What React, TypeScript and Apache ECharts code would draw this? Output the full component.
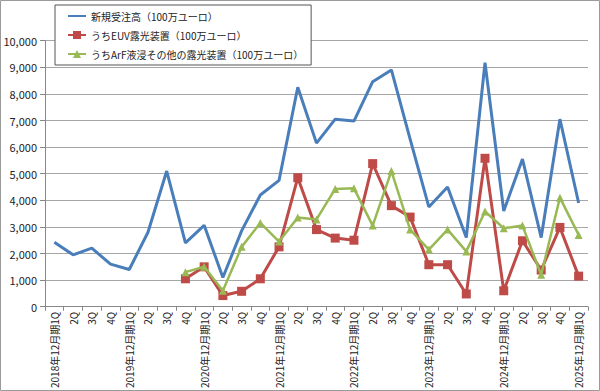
import React, { useEffect, useRef } from "react";
import * as echarts from "echarts";

const years = ["2018", "2019", "2020", "2021", "2022", "2023", "2024", "2025"];
const quarters = ["1Q", "2Q", "3Q", "4Q"];
const categories: string[] = [];
years.forEach((y) => {
  quarters.forEach((q) => {
    if (y === "2025" && q !== "1Q") return;
    categories.push(q === "1Q" ? `${y}年12月期1Q` : q);
  });
});

const seriesNames = [
  "新規受注高（100万ユーロ）",
  "うちEUV露光装置（100万ユーロ）",
  "うちArF液浸その他の露光装置（100万ユーロ）",
];

const totalOrders = [
  2420, 1950, 2200, 1600, 1400, 2800, 5100, 2400, 3060, 1100,
  2850, 4200, 4750, 8250, 6150, 7050, 6980, 8460, 8900, 6300,
  3750, 4500, 2600, 9170, 3600, 5550, 2600, 7050, 3900,
];
const euvOrders = [
  null, null, null, null, null, null, null, 1050, 1500, 420,
  580, 1050, 2250, 4850, 2900, 2580, 2500, 5380, 3800, 3370,
  1580, 1580, 480, 5580, 600, 2480, 1380, 2980, 1150,
];
const arfOrders = [
  null, null, null, null, null, null, null, 1300, 1500, 600,
  2250, 3150, 2450, 3350, 3280, 4430, 4450, 3050, 5100, 2900,
  2150, 2900, 2080, 3580, 2950, 3050, 1200, 4100, 2700,
];

const yTicks = { min: 0, max: 10000, interval: 1000 };

export default function App() {
  const ref = useRef<HTMLDivElement>(null);
  useEffect(() => {
    if (!ref.current) return;
    const chart = echarts.init(ref.current, undefined, { renderer: "svg" });
    const font = "'Noto Sans CJK JP', 'Noto Sans', sans-serif";
    chart.setOption({
      animation: false,
      backgroundColor: "#fff",
      textStyle: { fontFamily: font },
      graphic: [
        {
          type: "rect",
          shape: { x: 0.5, y: 0.5, width: 599, height: 390 },
          style: { fill: "none", stroke: "#9a9a9a", lineWidth: 1 },
          z: 100,
        },
      ],
      grid: { left: 45, right: 12, top: 40.7, bottom: 84 },
      legend: {
        orient: "vertical",
        left: 55,
        top: 5,
        padding: [6, 8, 6, 12],
        itemGap: 9,
        itemWidth: 18,
        itemHeight: 10,
        borderColor: "#555",
        borderWidth: 1,
        backgroundColor: "#fff",
        textStyle: { fontSize: 10, color: "#222", fontFamily: font },
        data: [
          { name: seriesNames[0], itemStyle: { opacity: 0 } },
          { name: seriesNames[1] },
          { name: seriesNames[2] },
        ],
        z: 10,
      },
      xAxis: {
        type: "category",
        data: categories,
        boundaryGap: true,
        axisLine: { lineStyle: { color: "#888", width: 1 } },
        axisTick: { show: true, length: 4, lineStyle: { color: "#888" } },
        axisLabel: {
          rotate: 90,
          interval: 0,
          fontSize: 10,
          color: "#222",
          margin: 5,
          fontFamily: font,
        },
      },
      yAxis: {
        type: "value",
        min: yTicks.min,
        max: yTicks.max,
        interval: yTicks.interval,
        axisLine: { show: true, lineStyle: { color: "#888", width: 1 } },
        axisTick: { show: true, length: 5, lineStyle: { color: "#888" } },
        splitLine: { lineStyle: { color: "#a6a6a6", width: 1 } },
        axisLabel: {
          fontSize: 11,
          color: "#222",
          margin: 8,
          fontFamily: font,
          formatter: (v: number) => v.toLocaleString("en-US"),
        },
      },
      series: [
        {
          name: seriesNames[0],
          type: "line",
          data: totalOrders,
          symbol: "none",
          lineStyle: { color: "#4a7ebb", width: 3 },
          itemStyle: { color: "#4a7ebb" },
          z: 3,
        },
        {
          name: seriesNames[1],
          type: "line",
          data: euvOrders,
          symbol: "rect",
          symbolSize: 9,
          lineStyle: { color: "#be4b48", width: 3 },
          itemStyle: { color: "#be4b48" },
          z: 4,
        },
        {
          name: seriesNames[2],
          type: "line",
          data: arfOrders,
          symbol: "triangle",
          symbolSize: 8,
          lineStyle: { color: "#98b954", width: 2.5 },
          itemStyle: { color: "#98b954" },
          z: 5,
        },
      ],
    });
    return () => chart.dispose();
  }, []);
  return (
    <div
      ref={ref}
      style={{ position: "fixed", left: 0, top: 0, width: 600, height: 391 }}
    />
  );
}
